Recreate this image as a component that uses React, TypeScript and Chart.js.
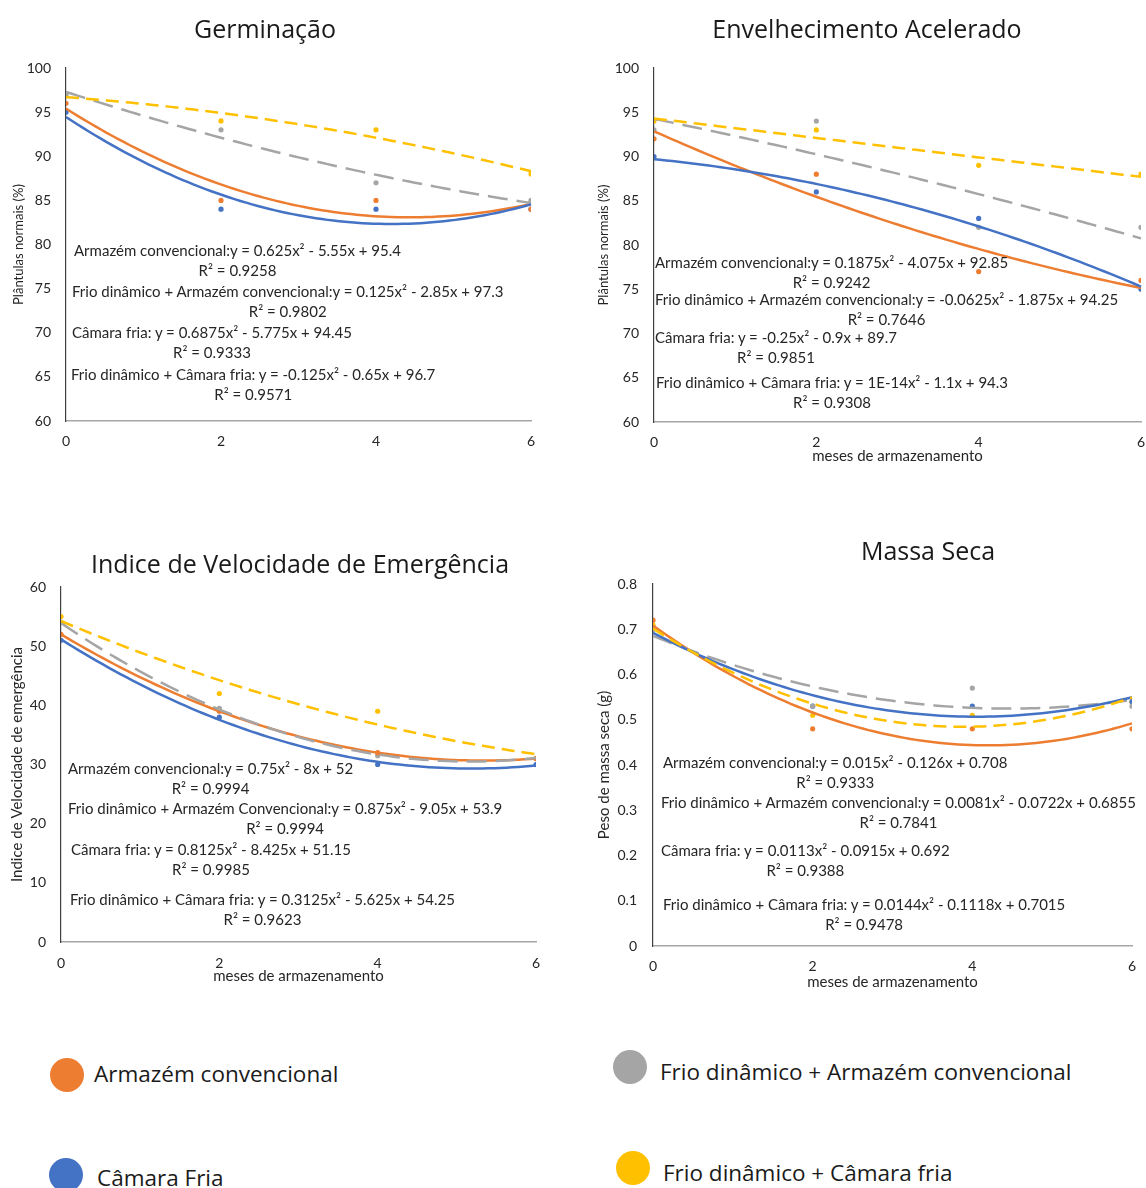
import React, { useEffect, useRef } from "react";
import { Chart, registerables } from "chart.js";

Chart.register(...registerables);

// ---------- DATA ----------
const MONTHS = [0, 2, 4, 6];
const SERIES_NAMES = [
  "Armazém convencional",
  "Frio dinâmico + Armazém convencional",
  "Câmara Fria",
  "Frio dinâmico + Câmara fria",
];

// Germinação
const GERM_AC = [96, 85, 85, 84];
const GERM_FDAC = [97, 93, 87, 85];
const GERM_CF = [95, 84, 84, 84];
const GERM_FDCF = [97, 94, 93, 88];
const GERM_TREND_AC = [0.625, -5.55, 95.4];
const GERM_TREND_FDAC = [0.125, -2.85, 97.3];
const GERM_TREND_CF = [0.6875, -5.775, 94.45];
const GERM_TREND_FDCF = [-0.125, -0.65, 96.7];
const GERM_EQ = [
  "Armazém convencional:y = 0.625x² - 5.55x + 95.4",
  "Frio dinâmico + Armazém convencional:y = 0.125x² - 2.85x + 97.3",
  "Câmara fria: y = 0.6875x² - 5.775x + 94.45",
  "Frio dinâmico + Câmara fria: y = -0.125x² - 0.65x + 96.7",
];
const GERM_R2 = ["R² = 0.9258", "R² = 0.9802", "R² = 0.9333", "R² = 0.9571"];

// Envelhecimento Acelerado
const ENV_AC = [92, 88, 77, 76];
const ENV_FDAC = [93, 94, 82, 82];
const ENV_CF = [90, 86, 83, 75];
const ENV_FDCF = [94, 93, 89, 88];
const ENV_TREND_AC = [0.1875, -4.075, 92.85];
const ENV_TREND_FDAC = [-0.0625, -1.875, 94.25];
const ENV_TREND_CF = [-0.25, -0.9, 89.7];
const ENV_TREND_FDCF = [1e-14, -1.1, 94.3];
const ENV_EQ = [
  "Armazém convencional:y = 0.1875x² - 4.075x + 92.85",
  "Frio dinâmico + Armazém convencional:y = -0.0625x² - 1.875x + 94.25",
  "Câmara fria: y = -0.25x² - 0.9x + 89.7",
  "Frio dinâmico + Câmara fria: y = 1E-14x² - 1.1x + 94.3",
];
const ENV_R2 = ["R² = 0.9242", "R² = 0.7646", "R² = 0.9851", "R² = 0.9308"];

// Indice de Velocidade de Emergência
const IVE_AC = [52, 39, 32, 31];
const IVE_FDAC = [54, 39.5, 31.5, 31];
const IVE_CF = [51, 38, 30, 30];
const IVE_FDCF = [55, 42, 39, 31];
const IVE_TREND_AC = [0.75, -8, 52];
const IVE_TREND_FDAC = [0.875, -9.05, 53.9];
const IVE_TREND_CF = [0.8125, -8.425, 51.15];
const IVE_TREND_FDCF = [0.3125, -5.625, 54.25];
const IVE_EQ = [
  "Armazém convencional:y = 0.75x² - 8x + 52",
  "Frio dinâmico + Armazém Convencional:y = 0.875x² - 9.05x + 53.9",
  "Câmara fria: y = 0.8125x² - 8.425x + 51.15",
  "Frio dinâmico + Câmara fria: y = 0.3125x² - 5.625x + 54.25",
];
const IVE_R2 = ["R² = 0.9994", "R² = 0.9994", "R² = 0.9985", "R² = 0.9623"];

// Massa Seca
const MS_AC = [0.72, 0.48, 0.48, 0.48];
const MS_FDAC = [0.7, 0.53, 0.57, 0.53];
const MS_CF = [0.7, 0.53, 0.53, 0.54];
const MS_FDCF = [0.71, 0.51, 0.51, 0.54];
const MS_TREND_AC = [0.015, -0.126, 0.708];
const MS_TREND_FDAC = [0.0081, -0.0722, 0.6855];
const MS_TREND_CF = [0.0113, -0.0915, 0.692];
const MS_TREND_FDCF = [0.0144, -0.1118, 0.7015];
const MS_EQ = [
  "Armazém convencional:y = 0.015x² - 0.126x + 0.708",
  "Frio dinâmico + Armazém convencional:y = 0.0081x² - 0.0722x + 0.6855",
  "Câmara fria: y = 0.0113x² - 0.0915x + 0.692",
  "Frio dinâmico + Câmara fria: y = 0.0144x² - 0.1118x + 0.7015",
];
const MS_R2 = ["R² = 0.9333", "R² = 0.7841", "R² = 0.9388", "R² = 0.9478"];

// ---------- STYLE ----------
const COLORS = ["#ED7D31", "#A5A5A5", "#4472C4", "#FFC000"];
const DASHES = [[], [20, 9], [], [13, 7]];
const AXIS_FONT = "Lato, 'Liberation Sans', sans-serif";
const TITLE_FONT = "'Open Sans', 'Noto Sans', sans-serif";

const PANELS = [
  {
    title: "Germinação",
    yTitle: "Plântulas normais (%)",
    xTitle: "",
    yMin: 60, yMax: 100, yStep: 5,
    series: [GERM_AC, GERM_FDAC, GERM_CF, GERM_FDCF],
    trends: [GERM_TREND_AC, GERM_TREND_FDAC, GERM_TREND_CF, GERM_TREND_FDCF],
    eq: GERM_EQ, r2: GERM_R2,
  },
  {
    title: "Envelhecimento Acelerado",
    yTitle: "Plântulas normais (%)",
    xTitle: "meses de armazenamento",
    yMin: 60, yMax: 100, yStep: 5,
    series: [ENV_AC, ENV_FDAC, ENV_CF, ENV_FDCF],
    trends: [ENV_TREND_AC, ENV_TREND_FDAC, ENV_TREND_CF, ENV_TREND_FDCF],
    eq: ENV_EQ, r2: ENV_R2,
  },
  {
    title: "Indice de Velocidade de Emergência",
    yTitle: "Indice de Velocidade de emergência",
    xTitle: "meses de armazenamento",
    yMin: 0, yMax: 60, yStep: 10,
    series: [IVE_AC, IVE_FDAC, IVE_CF, IVE_FDCF],
    trends: [IVE_TREND_AC, IVE_TREND_FDAC, IVE_TREND_CF, IVE_TREND_FDCF],
    eq: IVE_EQ, r2: IVE_R2,
  },
  {
    title: "Massa Seca",
    yTitle: "Peso de massa seca (g)",
    xTitle: "meses de armazenamento",
    yMin: 0, yMax: 0.8, yStep: 0.1,
    series: [MS_AC, MS_FDAC, MS_CF, MS_FDCF],
    trends: [MS_TREND_AC, MS_TREND_FDAC, MS_TREND_CF, MS_TREND_FDCF],
    eq: MS_EQ, r2: MS_R2,
  },
];

// layout (page pixel coords)
const GEOMS = [
  {
    left: 0, top: 0, w: 573, h: 480,
    pad: { left: 0, right: 42, top: 68, bottom: 29 },
    yWidth: 66, xHeight: 30, yTitlePad: 10.8, yTitleSize: 13,
    xTickPad: 12, yTickPad: 15, xTitlePad: 0,
    titleX: 265, titleY: 28,
    eqPos: [[74, 251], [72, 292], [72, 333], [71, 375]],
  },
  {
    left: 573, top: 0, w: 600, h: 480,
    pad: { left: 0, right: 32, top: 68, bottom: 13 },
    yWidth: 81, xHeight: 45, yTitlePad: 23.2, yTitleSize: 13,
    xTickPad: 12, yTickPad: 15, xTitlePad: 2,
    titleX: 867, titleY: 28,
    eqPos: [[655, 263], [655, 300], [655, 338], [656, 383]],
  },
  {
    left: 0, top: 520, w: 573, h: 480,
    pad: { left: 0, right: 37, top: 67, bottom: 8 },
    yWidth: 61, xHeight: 50, yTitlePad: 8, yTitleSize: 15,
    xTickPad: 13, yTickPad: 15, xTitlePad: 7,
    titleX: 300, titleY: 563,
    eqPos: [[68, 769], [68, 809], [71, 850], [70, 900]],
  },
  {
    left: 573, top: 520, w: 600, h: 480,
    pad: { left: 0, right: 41, top: 64, bottom: 6 },
    yWidth: 80, xHeight: 48, yTitlePad: 22, yTitleSize: 15,
    xTickPad: 12, yTickPad: 16, xTitlePad: 3,
    titleX: 928, titleY: 550,
    eqPos: [[663, 763], [661, 803], [661, 851], [663, 905]],
  },
];

const LEGEND_POS = [
  { cx: 67, cy: 1075, tx: 94, ty: 1074 },
  { cx: 630, cy: 1067, tx: 660, ty: 1072 },
  { cx: 66, cy: 1175, tx: 97, ty: 1178 },
  { cx: 633, cy: 1168, tx: 663, ty: 1173 },
];

function makeTrendPlugin(trends: number[][]) {
  return {
    id: "trendlines",
    afterDatasetsDraw(chart: any) {
      const { ctx, chartArea, scales } = chart;
      const xs = scales.x;
      const ys = scales.y;
      ctx.save();
      ctx.beginPath();
      ctx.rect(chartArea.left, chartArea.top - 3, chartArea.right - chartArea.left + 3, chartArea.bottom - chartArea.top + 3);
      ctx.clip();
      trends.forEach((coef, i) => {
        ctx.beginPath();
        ctx.strokeStyle = COLORS[i];
        ctx.lineWidth = 2.5;
        ctx.setLineDash(DASHES[i]);
        const n = 80;
        for (let k = 0; k <= n; k++) {
          const xv = xs.min + ((xs.max - xs.min) * k) / n;
          const yv = coef[0] * xv * xv + coef[1] * xv + coef[2];
          const px = xs.getPixelForValue(xv);
          const py = ys.getPixelForValue(yv);
          if (k === 0) ctx.moveTo(px, py);
          else ctx.lineTo(px, py);
        }
        ctx.stroke();
      });
      ctx.restore();
    },
  };
}

function Panel({ cfg, geo }: any) {
  const ref = useRef<HTMLCanvasElement | null>(null);
  useEffect(() => {
    if (!ref.current) return;
    const chart = new Chart(ref.current, {
      type: "scatter",
      data: {
        datasets: cfg.series.map((s: number[], i: number) => ({
          label: SERIES_NAMES[i],
          data: MONTHS.map((m, j) => ({ x: m, y: s[j] })),
          backgroundColor: COLORS[i],
          borderColor: COLORS[i],
          pointRadius: 2.6,
          pointBorderWidth: 0,
          showLine: false,
        })),
      },
      options: {
        responsive: false,
        animation: false,
        devicePixelRatio: 1,
        layout: { padding: geo.pad },
        plugins: {
          legend: { display: false },
          title: { display: false },
          tooltip: { enabled: false },
        },
        scales: {
          x: {
            type: "linear",
            min: 0,
            max: 6,
            grid: { display: false, drawTicks: false },
            border: { display: true, color: "#A6A6A6", width: 1.5 },
            ticks: {
              stepSize: 2,
              padding: geo.xTickPad,
              color: "#262626",
              font: { family: AXIS_FONT, size: 14 },
            },
            title: {
              display: !!cfg.xTitle,
              text: cfg.xTitle,
              color: "#262626",
              font: { family: AXIS_FONT, size: 15 },
              padding: { top: 0, bottom: geo.xTitlePad },
            },
            afterFit: (s: any) => {
              s.height = geo.xHeight;
            },
          },
          y: {
            type: "linear",
            min: cfg.yMin,
            max: cfg.yMax,
            grid: { display: false, drawTicks: false },
            border: { display: true, color: "#404040", width: 1.2 },
            ticks: {
              stepSize: cfg.yStep,
              padding: geo.yTickPad,
              color: "#262626",
              font: { family: AXIS_FONT, size: 14 },
            },
            title: {
              display: true,
              text: cfg.yTitle,
              color: "#262626",
              font: { family: AXIS_FONT, size: geo.yTitleSize },
              padding: { top: geo.yTitlePad, bottom: 0 },
            },
            afterFit: (s: any) => {
              s.width = geo.yWidth;
            },
          },
        },
      } as any,
      plugins: [makeTrendPlugin(cfg.trends)],
    });
    return () => chart.destroy();
  }, []);

  return (
    <>
      <canvas
        ref={ref}
        width={geo.w}
        height={geo.h}
        style={{ position: "absolute", left: geo.left, top: geo.top, width: geo.w, height: geo.h }}
      />
      <div
        style={{
          position: "absolute",
          left: geo.titleX,
          top: geo.titleY,
          transform: "translate(-50%, -50%)",
          whiteSpace: "nowrap",
          fontFamily: TITLE_FONT,
          fontSize: 25,
          color: "#1a1a1a",
          lineHeight: "30px",
        }}
      >
        {cfg.title}
      </div>
      {cfg.eq.map((t: string, i: number) => (
        <div
          key={i}
          style={{
            position: "absolute",
            left: geo.eqPos[i][0],
            top: geo.eqPos[i][1] - 10,
            whiteSpace: "nowrap",
            textAlign: "center",
            fontFamily: AXIS_FONT,
            fontSize: 15,
            lineHeight: "19.5px",
            color: "#262626",
          }}
        >
          <div>{t}</div>
          <div>{cfg.r2[i]}</div>
        </div>
      ))}
    </>
  );
}

export default function App() {
  return (
    <div
      style={{
        position: "absolute",
        left: 0,
        top: 0,
        width: 1146,
        height: 1188,
        background: "#ffffff",
        overflow: "hidden",
      }}
    >
      {PANELS.map((p, i) => (
        <Panel key={i} cfg={p} geo={GEOMS[i]} />
      ))}
      {SERIES_NAMES.map((name, i) => (
        <React.Fragment key={name}>
          <div
            style={{
              position: "absolute",
              left: LEGEND_POS[i].cx - 17,
              top: LEGEND_POS[i].cy - 17,
              width: 34,
              height: 34,
              borderRadius: "50%",
              background: COLORS[i],
            }}
          />
          <div
            style={{
              position: "absolute",
              left: LEGEND_POS[i].tx,
              top: LEGEND_POS[i].ty - 16,
              lineHeight: "32px",
              whiteSpace: "nowrap",
              fontFamily: TITLE_FONT,
              fontSize: 22.5,
              color: "#1a1a1a",
            }}
          >
            {name}
          </div>
        </React.Fragment>
      ))}
    </div>
  );
}
